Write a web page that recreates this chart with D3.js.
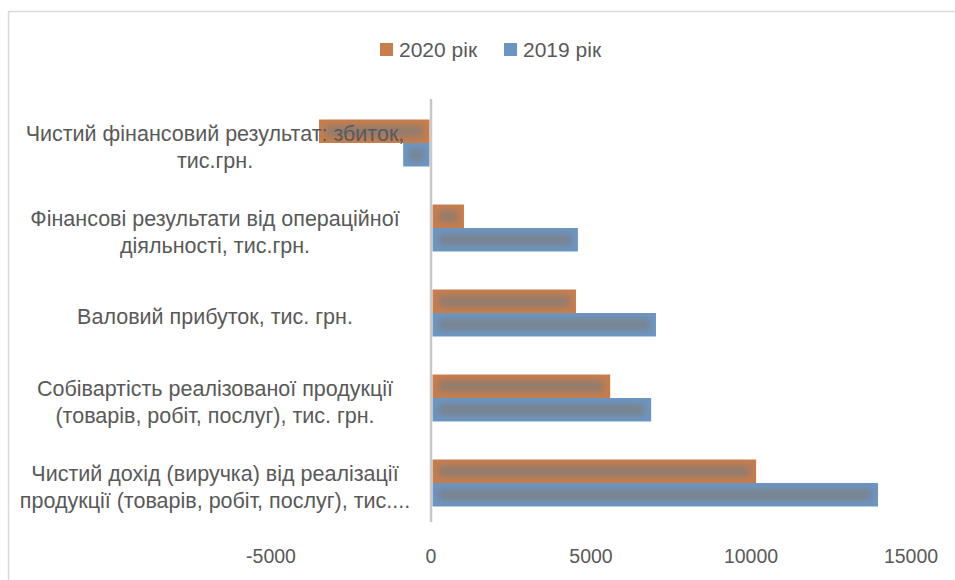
<!DOCTYPE html>
<html>
<head>
<meta charset="utf-8">
<script src="https://cdn.jsdelivr.net/npm/d3@7"></script>
<style>
  body { margin: 0; background: #fff; }
  text { font-family: "Liberation Sans", "DejaVu Sans", sans-serif; fill: #595959; }
</style>
</head>
<body>
<div id="chart"></div>
<script>
'use strict';

// categories, top to bottom, wrapped as on the picture
var categories = [
    ['Чистий фінансовий результат: збиток,', 'тис.грн.'],
    ['Фінансові результати від операційної', 'діяльності, тис.грн.'],
    ['Валовий прибуток, тис. грн.'],
    ['Собівартість реалізованої продукції', '(товарів, робіт, послуг), тис. грн.'],
    ['Чистий дохід (виручка) від реалізації', 'продукції (товарів, робіт, послуг), тис....']
];
var seriesNames = ['2020 рік', '2019 рік'];
var values2020 = [-3500, 1030, 4530, 5600, 10160];
var values2019 = [-870, 4590, 7030, 6880, 13970];
var xTicks = [-5000, 0, 5000, 10000, 15000];

var width = 955;
var height = 580;
var colors = { '2020 рік': '#c97d4a', '2019 рік': '#6b96c3' };
var cores = { '2020 рік': '#8f7c70', '2019 рік': '#7a828d' };

var svg = d3.select('#chart').append('svg')
    .attr('width', width)
    .attr('height', height);

var defs = svg.append('defs');
defs.append('filter').attr('id', 'soft')
    .attr('x', '-20%').attr('y', '-80%').attr('width', '140%').attr('height', '260%')
    .append('feGaussianBlur').attr('stdDeviation', 3.5);

// chart frame
svg.append('rect')
    .attr('x', 8.5).attr('y', 11.5)
    .attr('width', 960).attr('height', 600)
    .attr('fill', 'none')
    .attr('stroke', '#d9d9d9')
    .attr('stroke-width', 1.5);

var x = d3.scaleLinear().domain([-5000, 15000]).range([271, 911]);

var y0 = d3.scaleBand()
    .domain(d3.range(categories.length))
    .range([100.5, 525.5])
    .padding(0);

var y1 = d3.scaleBand()
    .domain(seriesNames)
    .range([0, y0.bandwidth()])
    .paddingInner(0)
    .paddingOuter(0.81);

var rows = categories.map(function(c, i) {
    return [
        { series: '2020 рік', value: values2020[i] },
        { series: '2019 рік', value: values2019[i] }
    ];
});

var groups = svg.selectAll('g.cat')
    .data(rows)
    .enter().append('g')
    .attr('class', 'cat')
    .attr('transform', function(d, i) { return 'translate(0,' + y0(i) + ')'; });

var bars = groups.selectAll('g.bar')
    .data(function(d) { return d; })
    .enter().append('g')
    .attr('class', 'bar');

bars.each(function(d, j) {
    var g = d3.select(this);
    var bx = Math.min(x(0), x(d.value)) + (d.value > 0 ? 1.5 : 0);
    var bw = Math.abs(x(d.value) - x(0)) - 1.5;
    var by = y1(d.series);
    var bh = y1.bandwidth();
    var clipId = 'clip-' + d.series.slice(0, 4) + '-' + d.value;
    g.append('clipPath').attr('id', clipId)
        .append('rect').attr('x', bx).attr('y', by).attr('width', bw).attr('height', bh);
    g.append('rect')
        .attr('x', bx).attr('y', by)
        .attr('width', bw).attr('height', bh)
        .attr('fill', colors[d.series]);
    // soft inner shading
    g.append('g').attr('clip-path', 'url(#' + clipId + ')')
        .append('rect')
        .attr('x', bx + 6).attr('y', by + 6)
        .attr('width', Math.max(0, bw - 12)).attr('height', Math.max(0, bh - 12))
        .attr('fill', cores[d.series])
        .attr('filter', 'url(#soft)');
});

// vertical zero axis
svg.append('line')
    .attr('x1', x(0)).attr('x2', x(0))
    .attr('y1', 99).attr('y2', 522)
    .attr('stroke', '#c8c8c8')
    .attr('stroke-width', 2.5);

// category labels (centred, overlapping the negative bars as in the original)
var labels = svg.selectAll('text.cat')
    .data(categories)
    .enter().append('text')
    .attr('class', 'cat')
    .attr('text-anchor', 'middle')
    .style('font-size', '21.5px');

labels.each(function(lines, i) {
    var t = d3.select(this);
    var cy = y0(i) + y0.bandwidth() / 2 + 3;
    var lh = 27;
    lines.forEach(function(line, k) {
        t.append('tspan')
            .attr('x', 215)
            .attr('y', cy + (k - (lines.length - 1) / 2) * lh + 8)
            .text(line);
    });
});

// x tick labels
svg.selectAll('text.tick')
    .data(xTicks)
    .enter().append('text')
    .attr('class', 'tick')
    .attr('x', function(d) { return x(d); })
    .attr('y', 563)
    .attr('text-anchor', 'middle')
    .style('font-size', '19.5px')
    .text(function(d) { return d; });

// legend
var legend = svg.append('g').attr('class', 'legend');
var legendX = [380, 504];
seriesNames.forEach(function(name, i) {
    legend.append('rect')
        .attr('x', legendX[i]).attr('y', 43)
        .attr('width', 13).attr('height', 13)
        .attr('fill', colors[name]);
    legend.append('text')
        .attr('x', legendX[i] + 19).attr('y', 57)
        .style('font-size', '21px')
        .text(name);
});
</script>
</body>
</html>
